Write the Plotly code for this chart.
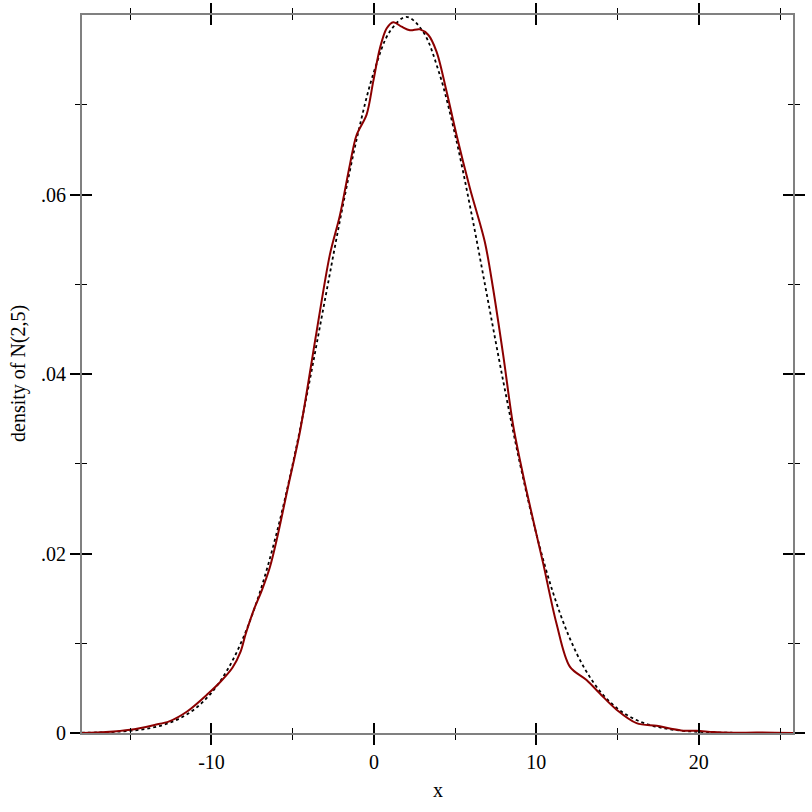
import plotly.graph_objects as go

# Kernel density estimate of samples (solid dark red)
kde_x = [-17.97, -16.5, -15.0, -13.5, -12.6, -11.5, -10.2, -9.4, -8.7, -8.2, -7.9, -7.4,
         -6.9, -6.4, -5.95, -5.3, -4.55, -3.53, -2.71, -2.09, -1.48, -1.07, -0.45, -0.04,
         0.37, 0.78, 1.19, 1.70, 2.22, 2.83, 3.34, 3.86, 4.47, 5.09, 5.91, 6.83, 7.34,
         7.96, 8.57, 9.19, 10.01, 10.42, 11.24, 12.06, 13.09, 13.91, 14.94, 16.17, 17.40,
         18.22, 19.03, 19.86, 20.9, 22.1, 23.6, 25.8]
kde_y = [0.0, 0.0001, 0.00035, 0.0009, 0.0013, 0.0024, 0.0044, 0.0058, 0.0073, 0.0091,
         0.0110, 0.0137, 0.0159, 0.0185, 0.0218, 0.0273, 0.0336, 0.0447, 0.0533, 0.0577,
         0.0633, 0.0666, 0.0689, 0.0726, 0.0763, 0.0785, 0.0792, 0.0787, 0.0783, 0.0784,
         0.0778, 0.0759, 0.0715, 0.0666, 0.0607, 0.0547, 0.0495, 0.0421, 0.0343, 0.0287,
         0.0221, 0.0189, 0.0122, 0.0074, 0.0059, 0.0044, 0.0026, 0.0011, 0.0008, 0.0005,
         0.00026, 0.00026, 0.0001, 0.00003, 0.00005, 0.0]

# Reference density N(2,5) (dotted black), values at integer x
pdf_x = list(range(-18, 27))
pdf_y = [0.0000268, 0.0000583, 0.0001224, 0.0002465, 0.0004768, 0.0008864, 0.001583,
         0.002717, 0.004479, 0.007095, 0.010798, 0.015790, 0.022184, 0.029945, 0.038837,
         0.048394, 0.057938, 0.066645, 0.073654, 0.078209, 0.079788, 0.078209, 0.073654,
         0.066645, 0.057938, 0.048394, 0.038837, 0.029945, 0.022184, 0.015790, 0.010798,
         0.007095, 0.004479, 0.002717, 0.001583, 0.0008864, 0.0004768, 0.0002465,
         0.0001224, 0.0000583, 0.0000268, 0.0000118, 0.0000050, 0.0000020, 0.0000008]

x_tickvals = [-10, 0, 10, 20]
x_ticktext = ["-10", "0", "10", "20"]
y_tickvals = [0, 0.02, 0.04, 0.06]
y_ticktext = ["0", ".02", ".04", ".06"]

x_range = [-17.97, 25.8]
y_range = [0, 0.0800]

FONT = "Liberation Serif"

fig = go.Figure()
fig.add_trace(go.Scatter(x=pdf_x, y=pdf_y, mode="lines", line_shape="spline",
                         line=dict(color="black", width=1.8, dash="3px,3px"),
                         hoverinfo="skip", showlegend=False))
fig.add_trace(go.Scatter(x=kde_x, y=kde_y, mode="lines", line_shape="spline",
                         line=dict(color="#8b0000", width=2, smoothing=0.9),
                         showlegend=False))
# invisible trace to activate the overlay axes (inner half of crossing ticks)
fig.add_trace(go.Scatter(x=[None], y=[None], xaxis="x2", yaxis="y2",
                         mode="lines", showlegend=False, hoverinfo="skip"))

common = dict(showgrid=False, zeroline=False, showline=True, linecolor="#808080",
              linewidth=2, mirror="allticks", tickcolor="black", tickwidth=2, ticklen=10,
              automargin=False)

fig.update_layout(
    width=812, height=812,
    margin=dict(l=82, r=19, t=15, b=79, autoexpand=False),
    plot_bgcolor="white", paper_bgcolor="white",
    font=dict(family=FONT, size=20, color="black"),
    xaxis=dict(range=x_range, tickvals=x_tickvals, ticktext=x_ticktext, ticks="outside",
               minor=dict(tickvals=[-15, -5, 5, 15, 25], ticks="outside", ticklen=5,
                          tickcolor="black", tickwidth=1),
               **common),
    yaxis=dict(range=y_range, tickvals=y_tickvals, ticktext=y_ticktext, ticks="outside",
               minor=dict(tickvals=[0.01, 0.03, 0.05, 0.07], ticks="outside", ticklen=5,
                          tickcolor="black", tickwidth=1),
               **common),
    xaxis2=dict(range=x_range, overlaying="x", tickvals=x_tickvals, showticklabels=False,
                ticks="inside",
                minor=dict(tickvals=[-15, -5, 5, 15, 25], ticks="inside", ticklen=5,
                           tickcolor="black", tickwidth=1),
                **common),
    yaxis2=dict(range=y_range, overlaying="y", tickvals=y_tickvals, showticklabels=False,
                ticks="inside",
                minor=dict(tickvals=[0.01, 0.03, 0.05, 0.07], ticks="inside", ticklen=5,
                           tickcolor="black", tickwidth=1),
                **common),
    annotations=[
        dict(text="x", xref="paper", yref="paper", x=0.5, y=0, yshift=-57,
             showarrow=False, font=dict(family=FONT, size=20), yanchor="middle"),
        dict(text="density of N(2,5)", xref="paper", yref="paper", x=0, xshift=-64,
             y=0.5, showarrow=False, textangle=-90, font=dict(family=FONT, size=20),
             xanchor="center", yanchor="middle"),
    ],
)

fig.write_html("out.html", config={"displayModeBar": False},
               post_script="document.body.style.margin='0';document.body.style.padding='0';"
                           "document.documentElement.style.overflow='hidden';")
